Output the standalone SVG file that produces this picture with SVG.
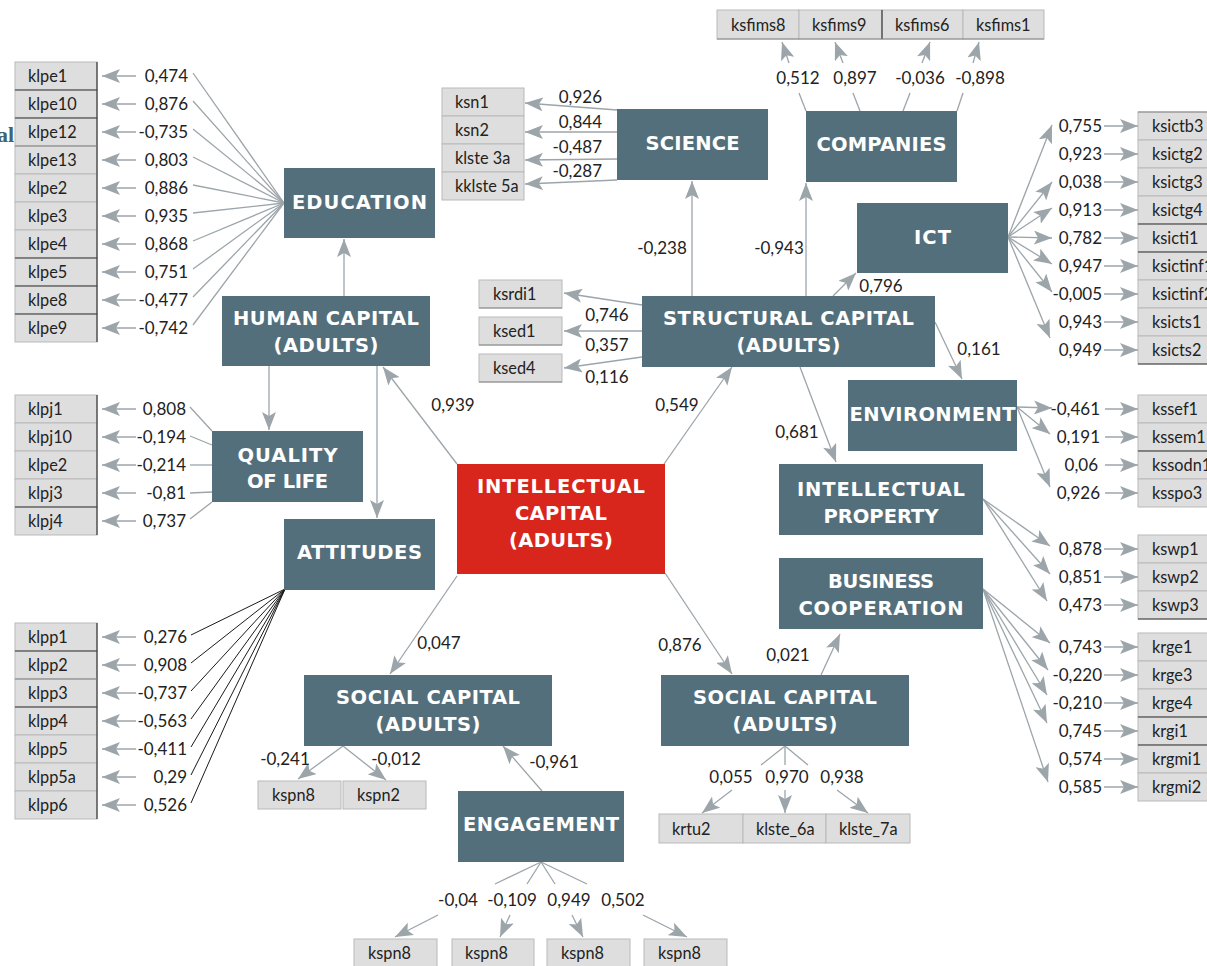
<svg xmlns="http://www.w3.org/2000/svg" width="1207" height="966" viewBox="0 0 1207 966">
<defs>
<style>
.node rect{fill:#546f7c}
.node.red rect{fill:#d8261d}
.node text{fill:#fff;font-family:"DejaVu Sans","Liberation Sans",sans-serif;font-weight:700;font-size:19.5px;text-anchor:middle}
.cell rect{fill:#dedede;stroke:#b9b9b9;stroke-width:1}
.cell text{fill:#222;font-family:Lato,"Liberation Sans",sans-serif;font-size:16.3px}
.lbl text{fill:#222;font-family:Lato,"Liberation Sans",sans-serif;font-size:17px}
.lbl .e{text-anchor:end}
.lbl .m{text-anchor:middle}
.ln line{stroke:#9ca5aa;stroke-width:1.3;fill:none}
.ln line.a{marker-end:url(#ah)}
.ln line.k{stroke:#1a1a1a;stroke-width:1}
.dk{stroke:#3a3a3a;stroke-width:1.2}
.md{stroke:#888;stroke-width:1}
</style>
<marker id="ah" markerUnits="userSpaceOnUse" viewBox="0 0 18 14" markerWidth="18" markerHeight="14" refX="18" refY="7" orient="auto">
<path d="M0,0 L18,7 L0,14 L4,7 z" fill="#9ca5aa"/>
</marker>
</defs>
<rect width="1207" height="966" fill="#fff"/>
<text x="14" y="142" text-anchor="end" font-family="'Liberation Serif',serif" font-weight="700" font-size="22" fill="#3f6476">al</text>

<!-- cells -->
<g id="cells-education" class="cell">
<rect x="15" y="62" width="82" height="28"/><text x="28" y="82">klpe1</text>
<rect x="15" y="90" width="82" height="28"/><text x="28" y="110">klpe10</text>
<rect x="15" y="118" width="82" height="28"/><text x="28" y="138">klpe12</text>
<rect x="15" y="146" width="82" height="28"/><text x="28" y="166">klpe13</text>
<rect x="15" y="174" width="82" height="28"/><text x="28" y="194">klpe2</text>
<rect x="15" y="202" width="82" height="28"/><text x="28" y="222">klpe3</text>
<rect x="15" y="230" width="82" height="28"/><text x="28" y="250">klpe4</text>
<rect x="15" y="258" width="82" height="28"/><text x="28" y="278">klpe5</text>
<rect x="15" y="286" width="82" height="28"/><text x="28" y="306">klpe8</text>
<rect x="15" y="314" width="82" height="28"/><text x="28" y="334">klpe9</text>
<line class="dk" x1="97" y1="62" x2="97" y2="342"/>
<line class="dk" x1="15" y1="90" x2="97" y2="90"/><line class="dk" x1="15" y1="118" x2="97" y2="118"/>
<line class="md" x1="15" y1="146" x2="97" y2="146"/>
<line class="dk" x1="15" y1="258" x2="97" y2="258"/><line class="dk" x1="15" y1="286" x2="97" y2="286"/><line class="dk" x1="15" y1="314" x2="97" y2="314"/>
</g>
<g id="cells-quality" class="cell">
<rect x="15" y="395" width="82" height="28"/><text x="28" y="415">klpj1</text>
<rect x="15" y="423" width="82" height="28"/><text x="28" y="443">klpj10</text>
<rect x="15" y="451" width="82" height="28"/><text x="28" y="471">klpe2</text>
<rect x="15" y="479" width="82" height="28"/><text x="28" y="499">klpj3</text>
<rect x="15" y="507" width="82" height="28"/><text x="28" y="527">klpj4</text>
<line class="dk" x1="97" y1="395" x2="97" y2="535"/>
<line class="dk" x1="15" y1="507" x2="97" y2="507"/>
</g>
<g id="cells-attitudes" class="cell">
<rect x="15" y="623" width="82" height="28"/><text x="28" y="643">klpp1</text>
<rect x="15" y="651" width="82" height="28"/><text x="28" y="671">klpp2</text>
<rect x="15" y="679" width="82" height="28"/><text x="28" y="699">klpp3</text>
<rect x="15" y="707" width="82" height="28"/><text x="28" y="727">klpp4</text>
<rect x="15" y="735" width="82" height="28"/><text x="28" y="755">klpp5</text>
<rect x="15" y="763" width="82" height="28"/><text x="28" y="783">klpp5a</text>
<rect x="15" y="791" width="82" height="28"/><text x="28" y="811">klpp6</text>
<line class="dk" x1="97" y1="623" x2="97" y2="819"/>
<line class="dk" x1="15" y1="651" x2="97" y2="651"/><line class="md" x1="15" y1="679" x2="97" y2="679"/><line class="dk" x1="15" y1="707" x2="97" y2="707"/>
</g>
<g id="cells-science" class="cell">
<rect x="442" y="88" width="82" height="28"/><text x="455" y="108">ksn1</text>
<rect x="442" y="116" width="82" height="28"/><text x="455" y="136">ksn2</text>
<rect x="442" y="144" width="82" height="28"/><text x="455" y="164">klste 3a</text>
<rect x="442" y="172" width="82" height="28"/><text x="455" y="192">kklste 5a</text>
</g>
<g id="cells-companies" class="cell">
<rect x="717" y="10" width="82" height="29"/><text x="731" y="31">ksfims8</text>
<rect x="799" y="10" width="83" height="29"/><text x="812" y="31">ksfims9</text>
<rect x="882" y="10" width="81" height="29"/><text x="895" y="31">ksfims6</text>
<rect x="963" y="10" width="81" height="29"/><text x="976" y="31">ksfims1</text>
<line class="dk" x1="882" y1="10" x2="882" y2="39"/><line class="md" x1="717" y1="39" x2="1044" y2="39"/>
</g>
<g id="cells-structural" class="cell">
<rect x="479" y="280" width="83" height="28"/><text x="493" y="300">ksrdi1</text>
<rect x="479" y="317" width="83" height="28"/><text x="493" y="337">ksed1</text>
<rect x="479" y="354" width="83" height="28"/><text x="493" y="374">ksed4</text>
<line class="md" x1="479" y1="308" x2="562" y2="308"/><line class="md" x1="479" y1="345" x2="562" y2="345"/><line class="md" x1="479" y1="382" x2="562" y2="382"/>
</g>
<g id="cells-ict" class="cell">
<rect x="1138" y="112" width="75" height="28"/><text x="1152" y="132">ksictb3</text>
<rect x="1138" y="140" width="75" height="28"/><text x="1152" y="160">ksictg2</text>
<rect x="1138" y="168" width="75" height="28"/><text x="1152" y="188">ksictg3</text>
<rect x="1138" y="196" width="75" height="28"/><text x="1152" y="216">ksictg4</text>
<rect x="1138" y="224" width="75" height="28"/><text x="1152" y="244">ksicti1</text>
<rect x="1138" y="252" width="75" height="28"/><text x="1152" y="272">ksictinf1</text>
<rect x="1138" y="280" width="75" height="28"/><text x="1152" y="300">ksictinf2</text>
<rect x="1138" y="308" width="75" height="28"/><text x="1152" y="328">ksicts1</text>
<rect x="1138" y="336" width="75" height="28"/><text x="1152" y="356">ksicts2</text>
<line class="md" x1="1138" y1="112" x2="1207" y2="112"/>
<line class="dk" x1="1138" y1="224" x2="1207" y2="224"/><line class="dk" x1="1138" y1="252" x2="1207" y2="252"/><line class="dk" x1="1138" y1="364" x2="1207" y2="364"/>
</g>
<g id="cells-environment" class="cell">
<rect x="1138" y="395" width="75" height="28"/><text x="1152" y="415">kssef1</text>
<rect x="1138" y="423" width="75" height="28"/><text x="1152" y="443">kssem1</text>
<rect x="1138" y="451" width="75" height="28"/><text x="1152" y="471">kssodn1</text>
<rect x="1138" y="479" width="75" height="28"/><text x="1152" y="499">ksspo3</text>
<line class="dk" x1="1138" y1="451" x2="1207" y2="451"/>
</g>
<g id="cells-ip" class="cell">
<rect x="1138" y="535" width="75" height="28"/><text x="1152" y="555">kswp1</text>
<rect x="1138" y="563" width="75" height="28"/><text x="1152" y="583">kswp2</text>
<rect x="1138" y="591" width="75" height="28"/><text x="1152" y="611">kswp3</text>
<line class="dk" x1="1138" y1="619" x2="1207" y2="619"/>
</g>
<g id="cells-business" class="cell">
<rect x="1138" y="633" width="75" height="28"/><text x="1152" y="653">krge1</text>
<rect x="1138" y="661" width="75" height="28"/><text x="1152" y="681">krge3</text>
<rect x="1138" y="689" width="75" height="28"/><text x="1152" y="709">krge4</text>
<rect x="1138" y="717" width="75" height="28"/><text x="1152" y="737">krgi1</text>
<rect x="1138" y="745" width="75" height="28"/><text x="1152" y="765">krgmi1</text>
<rect x="1138" y="773" width="75" height="28"/><text x="1152" y="793">krgmi2</text>
<line class="dk" x1="1138" y1="717" x2="1207" y2="717"/><line class="dk" x1="1138" y1="745" x2="1207" y2="745"/>
</g>
<g id="cells-social-left" class="cell">
<rect x="258" y="781" width="83" height="28"/><text x="272" y="801">kspn8</text>
<rect x="343" y="781" width="83" height="28"/><text x="357" y="801">kspn2</text>
</g>
<g id="cells-engagement" class="cell">
<rect x="354" y="939" width="83" height="28"/><text x="368" y="959">kspn8</text>
<rect x="452" y="939" width="82" height="28"/><text x="465" y="959">kspn8</text>
<rect x="547" y="939" width="83" height="28"/><text x="561" y="959">kspn8</text>
<rect x="644" y="939" width="83" height="28"/><text x="658" y="959">kspn8</text>
</g>
<g id="cells-social-right" class="cell">
<rect x="659" y="814" width="84" height="29"/><text x="672" y="835">krtu2</text>
<rect x="743" y="814" width="83" height="29"/><text x="756" y="835">klste_6a</text>
<rect x="826" y="814" width="84" height="29"/><text x="839" y="835">klste_7a</text>
</g>

<!-- connectors -->
<g id="connectors" class="ln">
<!-- education -->
<line class="a" x1="136" y1="76" x2="102" y2="76"/><line class="a" x1="136" y1="104" x2="102" y2="104"/>
<line class="a" x1="136" y1="132" x2="102" y2="132"/><line class="a" x1="136" y1="160" x2="102" y2="160"/>
<line class="a" x1="136" y1="188" x2="102" y2="188"/><line class="a" x1="136" y1="216" x2="102" y2="216"/>
<line class="a" x1="136" y1="244" x2="102" y2="244"/><line class="a" x1="136" y1="272" x2="102" y2="272"/>
<line class="a" x1="136" y1="300" x2="102" y2="300"/><line class="a" x1="136" y1="328" x2="102" y2="328"/>
<line x1="193" y1="73" x2="284" y2="203"/><line x1="193" y1="101" x2="284" y2="203"/>
<line x1="193" y1="129" x2="284" y2="203"/><line x1="193" y1="157" x2="284" y2="203"/>
<line x1="193" y1="185" x2="284" y2="203"/><line x1="193" y1="213" x2="284" y2="203"/>
<line x1="193" y1="241" x2="284" y2="203"/><line x1="193" y1="269" x2="284" y2="203"/>
<line x1="193" y1="297" x2="284" y2="203"/><line x1="193" y1="325" x2="284" y2="203"/>
<!-- quality -->
<line class="a" x1="136" y1="409" x2="102" y2="409"/><line class="a" x1="136" y1="437" x2="102" y2="437"/>
<line class="a" x1="136" y1="465" x2="102" y2="465"/><line class="a" x1="136" y1="493" x2="102" y2="493"/>
<line class="a" x1="136" y1="521" x2="102" y2="521"/>
<line x1="190" y1="407" x2="212" y2="431"/><line x1="190" y1="436" x2="212" y2="445"/>
<line x1="190" y1="465" x2="212" y2="465"/><line x1="190" y1="493" x2="212" y2="492"/>
<line x1="190" y1="519" x2="212" y2="502"/>
<!-- attitudes -->
<line class="a" x1="136" y1="637" x2="102" y2="637"/><line class="a" x1="136" y1="665" x2="102" y2="665"/>
<line class="a" x1="136" y1="693" x2="102" y2="693"/><line class="a" x1="136" y1="721" x2="102" y2="721"/>
<line class="a" x1="136" y1="749" x2="102" y2="749"/><line class="a" x1="136" y1="777" x2="102" y2="777"/>
<line class="a" x1="136" y1="805" x2="102" y2="805"/>
<line class="k" x1="191" y1="635" x2="285" y2="589"/><line class="k" x1="191" y1="663" x2="285" y2="589"/>
<line class="k" x1="191" y1="691" x2="285" y2="589"/><line class="k" x1="191" y1="719" x2="285" y2="589"/>
<line class="k" x1="191" y1="747" x2="285" y2="589"/><line class="k" x1="191" y1="775" x2="285" y2="589"/>
<line class="k" x1="191" y1="803" x2="285" y2="589"/>
<!-- human capital -->
<line class="a" x1="344" y1="296" x2="344" y2="239"/>
<line class="a" x1="269" y1="366" x2="269" y2="430"/>
<line class="a" x1="377" y1="366" x2="377" y2="518"/>
<!-- intellectual capital -->
<line class="a" x1="457" y1="464" x2="383" y2="367"/>
<line class="a" x1="664" y1="464" x2="732" y2="367"/>
<line class="a" x1="457" y1="576" x2="390" y2="674"/>
<line class="a" x1="665" y1="573" x2="732" y2="674"/>
<!-- science -->
<line class="a" x1="617" y1="110" x2="525" y2="103"/>
<line class="a" x1="617" y1="132" x2="525" y2="132"/>
<line class="a" x1="617" y1="159" x2="525" y2="160"/>
<line class="a" x1="617" y1="180" x2="525" y2="184"/>
<!-- companies -->
<line x1="806" y1="111" x2="799" y2="93"/><line x1="860" y1="111" x2="853" y2="93"/>
<line x1="903" y1="111" x2="910" y2="93"/><line x1="957" y1="111" x2="963" y2="93"/>
<line class="a" x1="789" y1="63" x2="782" y2="42"/><line class="a" x1="843" y1="63" x2="835" y2="42"/>
<line class="a" x1="922" y1="63" x2="930" y2="42"/><line class="a" x1="973" y1="63" x2="979" y2="42"/>
<!-- structural -->
<line class="a" x1="692" y1="296" x2="692" y2="181"/>
<line class="a" x1="806" y1="296" x2="806" y2="183"/>
<line class="a" x1="833" y1="296" x2="856" y2="273"/>
<line class="a" x1="935" y1="322" x2="962" y2="379"/>
<line class="a" x1="800" y1="367" x2="836" y2="462"/>
<line class="a" x1="642" y1="305" x2="564" y2="293"/>
<line class="a" x1="642" y1="331" x2="564" y2="331"/>
<line class="a" x1="642" y1="357" x2="564" y2="368"/>
<!-- ict -->
<line class="a" x1="1008" y1="237" x2="1052" y2="125"/>
<line class="a" x1="1008" y1="237" x2="1052" y2="182"/>
<line class="a" x1="1008" y1="237" x2="1052" y2="208"/>
<line class="a" x1="1008" y1="237" x2="1052" y2="238"/>
<line class="a" x1="1008" y1="237" x2="1052" y2="264"/>
<line class="a" x1="1008" y1="237" x2="1052" y2="292"/>
<line class="a" x1="1008" y1="237" x2="1050" y2="338"/>
<line class="a" x1="1104" y1="126" x2="1138" y2="126"/><line class="a" x1="1104" y1="154" x2="1138" y2="154"/>
<line class="a" x1="1104" y1="182" x2="1138" y2="182"/><line class="a" x1="1104" y1="210" x2="1138" y2="210"/>
<line class="a" x1="1104" y1="238" x2="1138" y2="238"/><line class="a" x1="1104" y1="266" x2="1138" y2="266"/>
<line class="a" x1="1104" y1="294" x2="1138" y2="294"/><line class="a" x1="1104" y1="322" x2="1138" y2="322"/>
<line class="a" x1="1104" y1="350" x2="1138" y2="350"/>
<!-- environment -->
<line class="a" x1="1017" y1="407" x2="1052" y2="408"/>
<line class="a" x1="1017" y1="407" x2="1050" y2="434"/>
<line class="a" x1="1017" y1="407" x2="1050" y2="487"/>
<line class="a" x1="1105" y1="409" x2="1138" y2="409"/><line class="a" x1="1105" y1="437" x2="1138" y2="437"/>
<line class="a" x1="1105" y1="465" x2="1138" y2="465"/><line class="a" x1="1105" y1="493" x2="1138" y2="493"/>
<!-- intellectual property -->
<line class="a" x1="983" y1="499" x2="1050" y2="546"/>
<line class="a" x1="983" y1="499" x2="1050" y2="574"/>
<line class="a" x1="983" y1="499" x2="1047" y2="601"/>
<line class="a" x1="1104" y1="549" x2="1138" y2="549"/><line class="a" x1="1104" y1="577" x2="1138" y2="577"/>
<line class="a" x1="1104" y1="605" x2="1138" y2="605"/>
<!-- business -->
<line class="a" x1="983" y1="589" x2="1050" y2="643"/>
<line class="a" x1="983" y1="589" x2="1048" y2="670"/>
<line class="a" x1="983" y1="589" x2="1047" y2="695"/>
<line class="a" x1="983" y1="589" x2="1047" y2="723"/>
<line class="a" x1="983" y1="589" x2="1048" y2="782"/>
<line class="a" x1="1104" y1="647" x2="1138" y2="647"/><line class="a" x1="1104" y1="675" x2="1138" y2="675"/>
<line class="a" x1="1104" y1="703" x2="1138" y2="703"/><line class="a" x1="1104" y1="731" x2="1138" y2="731"/>
<line class="a" x1="1104" y1="759" x2="1138" y2="759"/><line class="a" x1="1104" y1="787" x2="1138" y2="787"/>
<!-- social left -->
<line class="a" x1="343" y1="746" x2="298" y2="779"/>
<line class="a" x1="343" y1="746" x2="386" y2="780"/>
<line class="a" x1="542" y1="791" x2="503" y2="746"/>
<!-- engagement -->
<line x1="541" y1="862" x2="495" y2="884"/><line x1="541" y1="862" x2="527" y2="884"/>
<line x1="541" y1="862" x2="555" y2="884"/><line x1="541" y1="862" x2="587" y2="884"/>
<line class="a" x1="438" y1="915" x2="395" y2="937"/>
<line class="a" x1="510" y1="915" x2="500" y2="937"/>
<line class="a" x1="572" y1="915" x2="583" y2="937"/>
<line class="a" x1="643" y1="915" x2="687" y2="937"/>
<!-- social right -->
<line class="a" x1="821" y1="675" x2="840" y2="634"/>
<line x1="785" y1="746" x2="761" y2="765"/><line x1="785" y1="746" x2="785" y2="765"/><line x1="785" y1="746" x2="808" y2="765"/>
<line class="a" x1="732" y1="790" x2="702" y2="813"/>
<line class="a" x1="785" y1="790" x2="785" y2="813"/>
<line class="a" x1="837" y1="790" x2="868" y2="813"/>
</g>

<!-- labels -->
<g id="labels" class="lbl">
<text class="e" x="188" y="82">0,474</text><text class="e" x="188" y="110">0,876</text>
<text class="e" x="188" y="138">-0,735</text><text class="e" x="188" y="166">0,803</text>
<text class="e" x="188" y="194">0,886</text><text class="e" x="188" y="222">0,935</text>
<text class="e" x="188" y="250">0,868</text><text class="e" x="188" y="278">0,751</text>
<text class="e" x="188" y="306">-0,477</text><text class="e" x="188" y="334">-0,742</text>
<text class="e" x="186" y="415">0,808</text><text class="e" x="186" y="443">-0,194</text>
<text class="e" x="186" y="471">-0,214</text><text class="e" x="186" y="499">-0,81</text>
<text class="e" x="186" y="527">0,737</text>
<text class="e" x="187" y="643">0,276</text><text class="e" x="187" y="671">0,908</text>
<text class="e" x="187" y="699">-0,737</text><text class="e" x="187" y="727">-0,563</text>
<text class="e" x="187" y="755">-0,411</text><text class="e" x="187" y="783">0,29</text>
<text class="e" x="187" y="811">0,526</text>
<text class="m" x="453" y="411">0,939</text>
<text class="m" x="677" y="411">0,549</text>
<text class="m" x="439" y="649">0,047</text>
<text class="m" x="680" y="651">0,876</text>
<text class="e" x="602" y="103">0,926</text><text class="e" x="602" y="128">0,844</text>
<text class="e" x="602" y="153">-0,487</text><text class="e" x="602" y="177">-0,287</text>
<text class="m" x="798" y="84">0,512</text><text class="m" x="855" y="84">0,897</text>
<text class="m" x="920" y="84">-0,036</text><text class="m" x="980" y="84">-0,898</text>
<text class="m" x="662" y="254">-0,238</text>
<text class="m" x="779" y="254">-0,943</text>
<text class="m" x="881" y="292">0,796</text>
<text class="m" x="979" y="355">0,161</text>
<text class="m" x="797" y="438">0,681</text>
<text class="m" x="607" y="321">0,746</text><text class="m" x="607" y="351">0,357</text>
<text class="m" x="607" y="383">0,116</text>
<text class="e" x="1102" y="132">0,755</text><text class="e" x="1102" y="160">0,923</text>
<text class="e" x="1102" y="188">0,038</text><text class="e" x="1102" y="216">0,913</text>
<text class="e" x="1102" y="244">0,782</text><text class="e" x="1102" y="272">0,947</text>
<text class="e" x="1102" y="300">-0,005</text><text class="e" x="1102" y="328">0,943</text>
<text class="e" x="1102" y="356">0,949</text>
<text class="e" x="1100" y="415">-0,461</text><text class="e" x="1100" y="443">0,191</text>
<text class="e" x="1098" y="471">0,06</text><text class="e" x="1100" y="499">0,926</text>
<text class="e" x="1102" y="555">0,878</text><text class="e" x="1102" y="583">0,851</text>
<text class="e" x="1102" y="611">0,473</text>
<text class="e" x="1102" y="653">0,743</text><text class="e" x="1102" y="681">-0,220</text>
<text class="e" x="1102" y="709">-0,210</text><text class="e" x="1102" y="737">0,745</text>
<text class="e" x="1102" y="765">0,574</text><text class="e" x="1102" y="793">0,585</text>
<text class="m" x="285" y="765">-0,241</text><text class="m" x="396" y="765">-0,012</text>
<text class="m" x="554" y="768">-0,961</text>
<text class="m" x="458" y="906">-0,04</text><text class="m" x="512" y="906">-0,109</text>
<text class="m" x="569" y="906">0,949</text><text class="m" x="623" y="906">0,502</text>
<text class="m" x="788" y="661">0,021</text>
<text class="m" x="731" y="783">0,055</text><text class="m" x="787" y="783">0,970</text>
<text class="m" x="842" y="783">0,938</text>
</g>

<!-- nodes -->
<g id="n-education" class="node"><rect x="284" y="168" width="151" height="70"/><text x="359.5" y="209" textLength="135">EDUCATION</text></g>
<g id="n-human" class="node"><rect x="222" y="296" width="208" height="70"/><text x="326" y="325" textLength="186">HUMAN CAPITAL</text><text x="326" y="352" textLength="105">(ADULTS)</text></g>
<g id="n-quality" class="node"><rect x="212" y="431" width="151" height="71"/><text x="287.5" y="462" textLength="100">QUALITY</text><text x="287.5" y="488" textLength="81">OF LIFE</text></g>
<g id="n-attitudes" class="node"><rect x="284" y="519" width="151" height="71"/><text x="359.5" y="559" textLength="125">ATTITUDES</text></g>
<g id="n-science" class="node"><rect x="617" y="109" width="151" height="71"/><text x="692.5" y="150" textLength="94">SCIENCE</text></g>
<g id="n-companies" class="node"><rect x="806" y="111" width="151" height="71"/><text x="881.5" y="151" textLength="130">COMPANIES</text></g>
<g id="n-ict" class="node"><rect x="857" y="203" width="151" height="70"/><text x="932.5" y="244" textLength="37">ICT</text></g>
<g id="n-structural" class="node"><rect x="642" y="296" width="293" height="71"/><text x="788.5" y="325" textLength="251">STRUCTURAL CAPITAL</text><text x="788.5" y="352" textLength="104">(ADULTS)</text></g>
<g id="n-environment" class="node"><rect x="848" y="380" width="169" height="71"/><text x="932.5" y="421" textLength="166">ENVIRONMENT</text></g>
<g id="n-ip" class="node"><rect x="779" y="464" width="204" height="71"/><text x="881" y="496" textLength="168">INTELLECTUAL</text><text x="881" y="523" textLength="115">PROPERTY</text></g>
<g id="n-business" class="node"><rect x="779" y="558" width="204" height="71"/><text x="881" y="588" textLength="106">BUSINESS</text><text x="881" y="615" textLength="165">COOPERATION</text></g>
<g id="n-ic" class="node red"><rect x="457" y="464" width="208" height="110"/><text x="561" y="493" textLength="168">INTELLECTUAL</text><text x="561" y="520" textLength="92">CAPITAL</text><text x="561" y="547" textLength="104">(ADULTS)</text></g>
<g id="n-social-left" class="node"><rect x="304" y="675" width="248" height="71"/><text x="428" y="704" textLength="184">SOCIAL CAPITAL</text><text x="428" y="731" textLength="105">(ADULTS)</text></g>
<g id="n-social-right" class="node"><rect x="661" y="675" width="248" height="71"/><text x="785" y="704" textLength="184">SOCIAL CAPITAL</text><text x="785" y="731" textLength="105">(ADULTS)</text></g>
<g id="n-engagement" class="node"><rect x="458" y="791" width="166" height="71"/><text x="541" y="831" textLength="156">ENGAGEMENT</text></g>
</svg>
